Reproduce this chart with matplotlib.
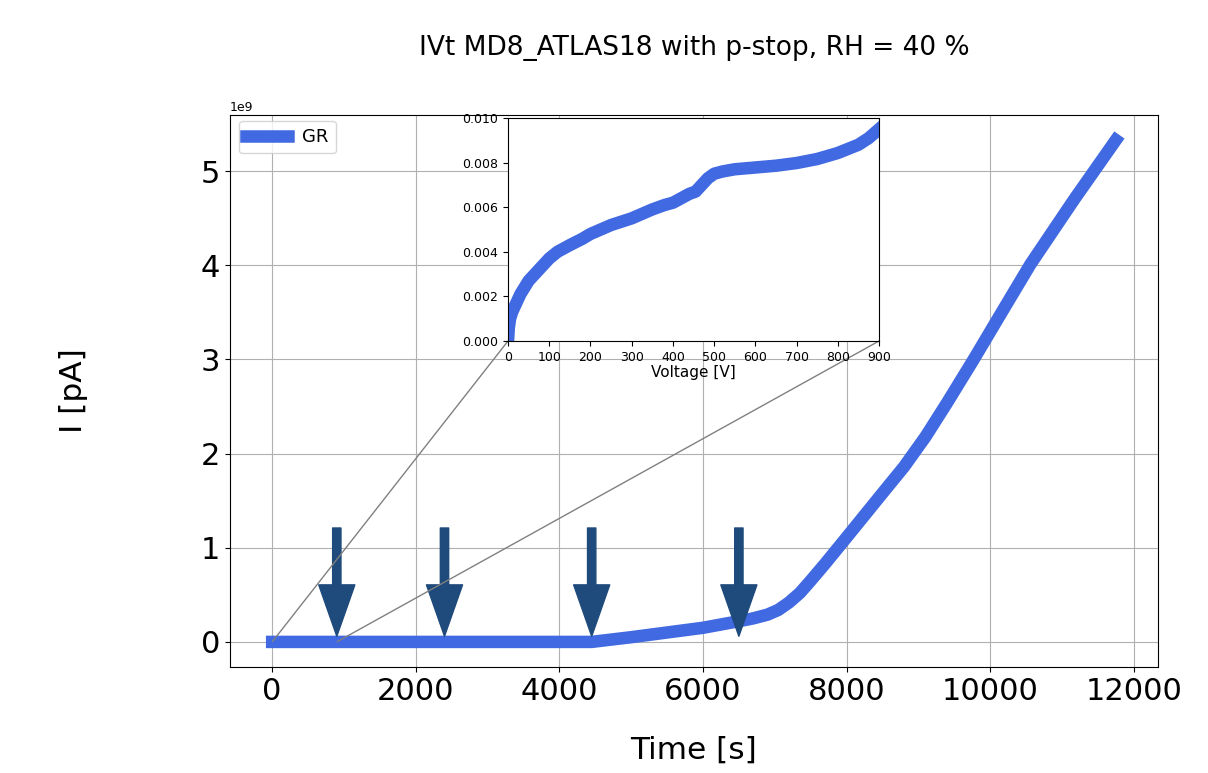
import matplotlib
matplotlib.use("Agg")
import matplotlib.pyplot as plt
from mpl_toolkits.axes_grid1.inset_locator import mark_inset

# main curve: guard ring current vs time
time_s = [0, 900, 2400, 4450, 5000, 5500, 6000, 6500, 6700, 6900, 7050, 7200,
          7350, 7500, 7700, 8000, 8500, 8800, 9100, 9400, 9770, 10160, 10560,
          11170, 11750]
current_pA = [0, 0, 0, 0, 0.05e9, 0.10e9, 0.15e9, 0.22e9, 0.25e9, 0.29e9, 0.34e9,
              0.42e9, 0.52e9, 0.65e9, 0.83e9, 1.11e9, 1.58e9, 1.86e9, 2.18e9,
              2.54e9, 3.00e9, 3.50e9, 4.01e9, 4.70e9, 5.33e9]

# inset: first ramp, current vs voltage
voltage_V = [0, 2, 5, 10, 20, 30, 40, 50, 65, 80, 100, 120, 150, 180, 200, 250,
             300, 350, 380, 400, 420, 440, 455, 470, 485, 500, 520, 550, 600, 650,
             700, 750, 800, 850, 875, 900]
inset_current = [0, 0.0006, 0.0010, 0.0013, 0.0017, 0.0021, 0.0024, 0.0027, 0.0030,
                 0.0033, 0.0037, 0.0040, 0.0043, 0.00458, 0.0048, 0.0052, 0.0055,
                 0.0059, 0.0061, 0.0062, 0.0064, 0.0066, 0.0067, 0.0070, 0.0073,
                 0.0075, 0.0076, 0.0077, 0.00778, 0.00786, 0.00798, 0.00816,
                 0.00843, 0.0088, 0.0091, 0.0095]

# times where the arrows point
arrow_times = [900, 2400, 4450, 6500]

line_color = 'royalblue'
arrow_color = '#1f4a7c'

fig = plt.figure(figsize=(12.08, 7.73), dpi=100)
ax = fig.add_axes([230 / 1208, 106 / 773, 928 / 1208, 552 / 773])

ax.plot(time_s, current_pA, color=line_color, lw=9, label='GR',
        solid_joinstyle='round')
ax.grid(True)
ax.tick_params(labelsize=22)
ax.yaxis.get_offset_text().set_fontsize(9)
ax.set_xlabel('Time [s]', fontsize=22.5)
ax.set_ylabel('I [pA]', fontsize=22.5)
ax.xaxis.set_label_coords(0.5, -0.125)
ax.yaxis.set_label_coords(-0.153, 0.5)
ax.set_title('IVt MD8_ATLAS18 with p-stop, RH = 40 %', fontsize=19, pad=43)
ax.legend(loc='upper left', fontsize=13, handlelength=2.3,
          bbox_to_anchor=(0, 1.006))

for t in arrow_times:
    ax.annotate('', xy=(t, 0.06e9), xytext=(t, 1.21e9),
                arrowprops=dict(facecolor=arrow_color, edgecolor=arrow_color,
                                width=6, headwidth=26, headlength=37, shrink=0))

# zoom on the first ramp
axins = ax.inset_axes([0.2996, 0.5906, 0.3998, 0.404])
axins.plot(voltage_V, inset_current, color=line_color, lw=9,
           solid_joinstyle='round')
axins.set_xlim(0, 900)
axins.set_ylim(0, 0.010)
axins.set_xticks(range(0, 901, 100))
axins.set_yticks([0, 0.002, 0.004, 0.006, 0.008, 0.010])
axins.tick_params(labelsize=9)
axins.set_xlabel('Voltage [V]', fontsize=11, labelpad=1)
mark_inset(ax, axins, loc1=3, loc2=4, fc='none', ec='0.5')

plt.savefig('out.png', dpi=100)
